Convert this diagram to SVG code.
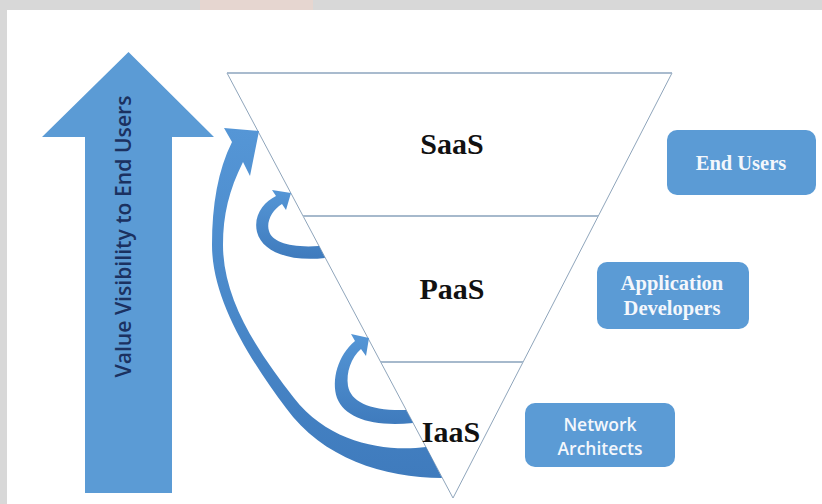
<svg xmlns="http://www.w3.org/2000/svg" width="822" height="504" viewBox="0 0 822 504">
  <defs>
    <style>
      .blue { fill: #5b9bd5; }
      .edge { fill: none; stroke: #8fa5bb; stroke-width: 1; }
      .divider { fill: none; stroke: #a6b9cc; stroke-width: 2; }
      .layer { font-family: "Liberation Serif", "Times New Roman", serif; font-weight: bold; font-size: 30px; fill: #111111; text-anchor: middle; }
      .role { font-family: "Liberation Serif", "Times New Roman", serif; font-weight: bold; font-size: 20.5px; fill: #f4f7fc; text-anchor: middle; }
      .role-sans { font-family: "Open Sans", "Liberation Sans", sans-serif; font-weight: 600; font-size: 17.5px; fill: #f4f7fc; text-anchor: middle; }
      .axis { font-family: "Open Sans", "Liberation Sans", sans-serif; font-weight: 600; font-size: 22px; fill: #1b3160; text-anchor: middle; }
      .curve { fill: url(#curveFill); }
    </style>
    <linearGradient id="curveFill" x1="0" y1="0" x2="0" y2="1">
      <stop offset="0" stop-color="#5596d6"/>
      <stop offset="1" stop-color="#3f7bbd"/>
    </linearGradient>
  </defs>

  <!-- page frame -->
  <rect x="0" y="0" width="822" height="504" fill="#d8d8d8"/>
  <rect x="200" y="0" width="113" height="10" fill="#e6d6d0"/>
  <rect x="7" y="10" width="815" height="494" fill="#ffffff"/>

  <!-- vertical axis arrow -->
  <g id="value-visibility">
    <polygon class="blue" points="128.5,52 214,137 172,137 172,493 85,493 85,137 42,137"/>
    <text class="axis" transform="translate(131,236.5) rotate(-90)" textLength="282" lengthAdjust="spacingAndGlyphs">Value Visibility to End Users</text>
  </g>

  <!-- inverted pyramid -->
  <g id="pyramid">
    <polygon class="edge" points="227,73 672,73 453,498"/>
    <line x1="227" y1="73" x2="672" y2="73" stroke="#9fb3c8" stroke-width="1.6"/>
  </g>
  <g id="saas">
    <text class="layer" x="452" y="154">SaaS</text>
  </g>
  <g id="paas">
    <line class="divider" x1="303" y1="216" x2="598" y2="216"/>
    <text class="layer" x="452" y="299">PaaS</text>
  </g>
  <g id="iaas">
    <line class="divider" x1="381" y1="362" x2="523" y2="362" stroke-width="1.5"/>
    <text class="layer" x="451" y="442">IaaS</text>
  </g>

  <!-- audience boxes -->
  <g id="end-users">
    <rect class="blue" x="667" y="130" width="149" height="65" rx="10"/>
    <text class="role" x="741" y="170">End Users</text>
  </g>
  <g id="application-developers">
    <rect class="blue" x="597" y="262" width="152" height="67" rx="10"/>
    <text class="role" x="672" y="290">Application</text>
    <text class="role" x="672" y="315">Developers</text>
  </g>
  <g id="network-architects">
    <rect class="blue" x="525" y="403" width="150" height="64" rx="10"/>
    <text class="role-sans" x="600" y="431">Network</text>
    <text class="role-sans" x="600" y="455">Architects</text>
  </g>

  <!-- curved connectors between layers -->
  <g id="connectors">
    <path class="curve" d="M224,128 L259,131 L250,176 L243,162
      C229,190 223,215 223,245
      C223,300 258,352 294,398
      C330,444 386,452 426,447
      L442,478
      C384,478 322,458 286,408
      C250,360 212,300 212,245
      C212,205 218,170 232,142 Z"/>
    <path class="curve" d="M272,190 L291,193 L286,210 L282,204
      C272,210 266,222 269,231
      C272,242 290,248 319,246
      L325,258
      C290,262 262,252 257,232
      C253,215 264,202 276,196 Z"/>
    <path class="curve" d="M351,334 L369,338 L366,356 L361,349
      C351,358 346,372 348,386
      C351,402 370,411 406,410
      L413,423
      C372,427 345,418 337,398
      C331,380 338,355 355,341 Z"/>
  </g>
</svg>
